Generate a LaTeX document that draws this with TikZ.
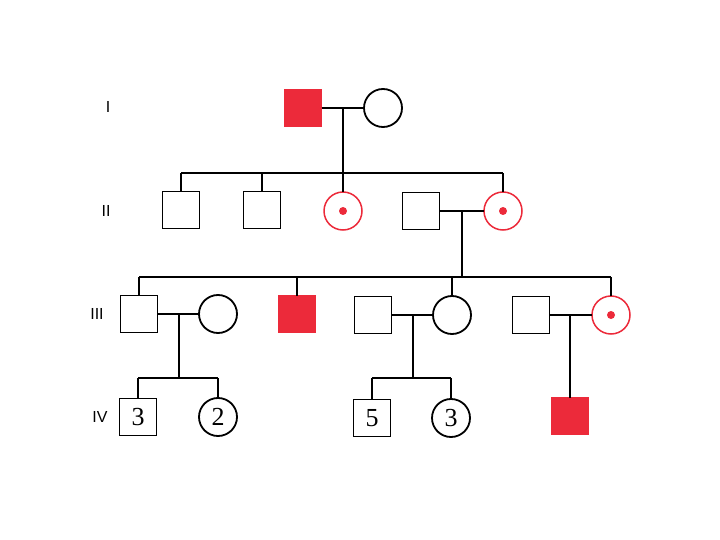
\documentclass[tikz,border=0pt]{standalone}
\usepackage{fontspec}
\setmainfont{Liberation Serif}
\newfontfamily\labfont{Liberation Sans}
\definecolor{pedred}{RGB}{236,42,58}
\begin{document}
\begin{tikzpicture}[x=1pt,y=-1pt,
  line width=1.8pt,
  male/.style={draw=black,rectangle,minimum size=37pt,inner sep=0pt,outer sep=0pt,font=\fontsize{26}{26}\selectfont},
  female/.style={draw=black,circle,minimum size=38pt,inner sep=0pt,outer sep=0pt,font=\fontsize{26}{26}\selectfont},
  affm/.style={rectangle,fill=pedred,draw=pedred,minimum size=37pt,inner sep=0pt,outer sep=0pt},
  carrier/.style={circle,draw=pedred,line width=1.5pt,minimum size=38pt,inner sep=0pt,outer sep=0pt,
    path picture={\fill[pedred] (path picture bounding box.center) circle[radius=4pt];}},
  gen/.style={font=\labfont\fontsize{16}{16}\selectfont},
  link/.style={draw=black,line width=1.8pt}]
\useasboundingbox (0,0) rectangle (720,540);
% generation labels
\node[gen] (gI) at (108,107) {I};
\node[gen] (gII) at (106,211) {II};
\node[gen] (gIII) at (97,314) {III};
\node[gen] (gIV) at (100,417) {IV};
% Generation I
\node[affm] (I1) at (303,108) {};
\node[female] (I2) at (383,108) {};
% Generation II
\node[male] (II1) at (181,210) {};
\node[male] (II2) at (262,210) {};
\node[carrier] (II3) at (343,211) {};
\node[male] (II4) at (421,211) {};
\node[carrier] (II5) at (503,211) {};
% Generation III
\node[male] (III1) at (139,314) {};
\node[female] (III2) at (218,314) {};
\node[affm] (III3) at (297,314) {};
\node[male] (III4) at (373,315) {};
\node[female] (III5) at (452,315) {};
\node[male] (III6) at (531,315) {};
\node[carrier] (III7) at (611,315) {};
% Generation IV
\node[male] (IV1) at (138,417) {3};
\node[female] (IV2) at (218,417) {2};
\node[male] (IV3) at (372,418) {5};
\node[female] (IV4) at (451,418) {3};
\node[affm] (IV5) at (570,416) {};
% marriage and descent coordinates
\coordinate (mI) at (343,108);
\coordinate (sII) at (343,173);
\coordinate (sIIa) at (181,173);
\coordinate (sIIb) at (503,173);
\coordinate (mII) at (462,211);
\coordinate (sIII) at (462,277);
\coordinate (sIIIa) at (139,277);
\coordinate (sIIIb) at (611,277);
\coordinate (mIIIa) at (179,314);
\coordinate (sIVa) at (179,378);
\coordinate (sIVa1) at (138,378);
\coordinate (sIVa2) at (218,378);
\coordinate (mIIIb) at (413,315);
\coordinate (sIVb) at (413,378);
\coordinate (sIVb1) at (372,378);
\coordinate (sIVb2) at (451,378);
\coordinate (mIIIc) at (570,315);
% Generation I links
\draw[link] (I1) -- (I2);
\draw[link] (mI) -- (sII);
\draw[link] (sIIa) -- (sIIb);
\foreach \n in {II1,II2,II3,II5} \draw[link] (\n.north) -- (\n.north |- sII);
% Generation II links
\draw[link] (II4.east) -- (II5.west);
\draw[link] (mII) -- (sIII);
\draw[link] (sIIIa) -- (sIIIb);
\foreach \n in {III1,III3,III5,III7} \draw[link] (\n.north) -- (\n.north |- sIII);
% Generation III links
\draw[link] (III1.east) -- (III2.west);
\draw[link] (mIIIa) -- (sIVa);
\draw[link] (sIVa1) -- (sIVa2);
\draw[link] (IV1.north) -- (sIVa1);
\draw[link] (IV2.north) -- (sIVa2);
\draw[link] (III4.east) -- (III5.west);
\draw[link] (mIIIb) -- (sIVb);
\draw[link] (sIVb1) -- (sIVb2);
\draw[link] (IV3.north) -- (sIVb1);
\draw[link] (IV4.north) -- (sIVb2);
\draw[link] (III6.east) -- (III7.west);
\draw[link] (mIIIc) -- (IV5.north);
\end{tikzpicture}
\end{document}
